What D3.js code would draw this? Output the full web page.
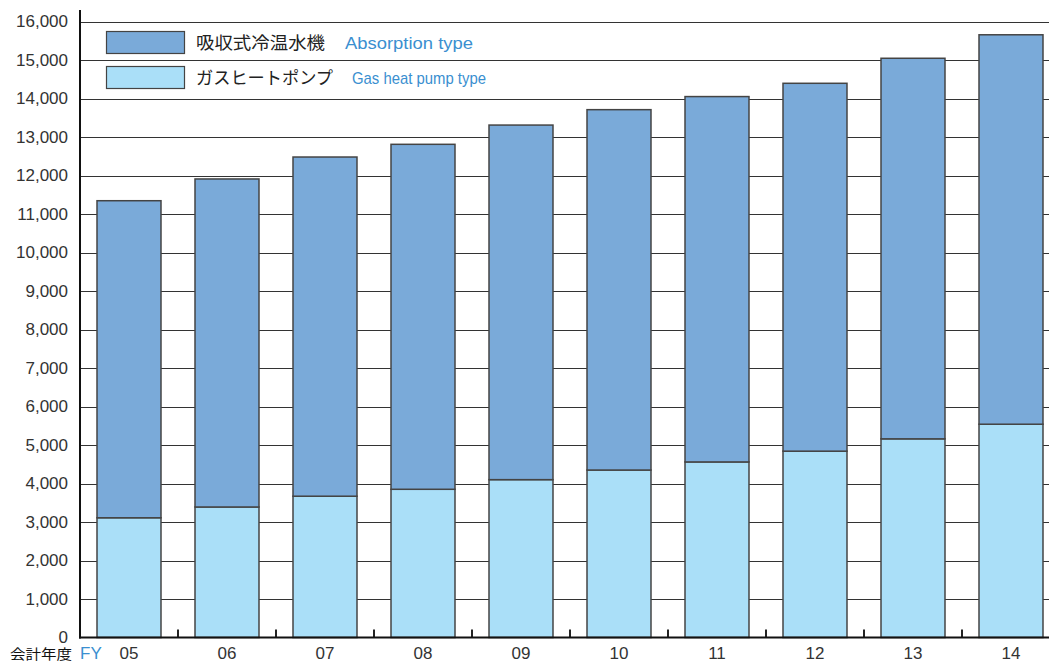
<!DOCTYPE html>
<html>
<head>
<meta charset="utf-8">
<script src="https://cdn.jsdelivr.net/npm/d3@7"></script>
<style>
  body { margin: 0; background: #fff; }
  svg { display: block; }
</style>
</head>
<body>
<svg width="1049" height="663"></svg>
<script>
// fiscal years
const years = ["05", "06", "07", "08", "09", "10", "11", "12", "13", "14"];
// gas heat pump (bottom segment)
const gasHeatPump = [3110, 3390, 3670, 3850, 4100, 4350, 4560, 4840, 5160, 5540];
// absorption chiller/heater (top segment)
const absorption = [8235, 8520, 8810, 8960, 9210, 9360, 9490, 9555, 9885, 10115];
const yTicks = [0, 1000, 2000, 3000, 4000, 5000, 6000, 7000, 8000, 9000, 10000,
                11000, 12000, 13000, 14000, 15000, 16000];

const colAbs = "#7aaad9";
const colGas = "#aadff8";
const blue = "#3a8fd0";

const svg = d3.select("svg");
const plotLeft = 80, plotRight = 1060, plotTop = 21.5, plotBottom = 637.5;

const x = d3.scaleBand().domain(years).range([plotLeft, plotRight])
    .paddingInner(0.347).paddingOuter(0.1735);
const y = d3.scaleLinear().domain([0, 16000]).range([plotBottom, plotTop]);

// gridlines
svg.append("g").selectAll("line")
    .data(yTicks.filter(d => d > 0))
    .join("line")
    .attr("x1", plotLeft).attr("x2", plotRight)
    .attr("y1", d => Math.round(y(d)) + 0.5).attr("y2", d => Math.round(y(d)) + 0.5)
    .attr("stroke", "#333").attr("stroke-width", 1);

// y labels
svg.append("g").selectAll("text")
    .data(yTicks)
    .join("text")
    .attr("x", 68).attr("y", d => y(d) + 5.5)
    .attr("text-anchor", "end")
    .style("font-family", "'Liberation Sans', Helvetica, Arial, sans-serif")
    .style("font-size", "17px")
    .attr("fill", "#333")
    .text(d => d3.format(",")(d));

// stacked bars
const rows = years.map((yr, i) => ({ year: yr, gas: gasHeatPump[i], abs: absorption[i] }));
const stack = d3.stack().keys(["gas", "abs"])(rows);
const colors = { gas: colGas, abs: colAbs };

svg.append("g").selectAll("g")
    .data(stack)
    .join("g")
    .attr("fill", d => colors[d.key])
    .selectAll("rect")
    .data(d => d)
    .join("rect")
    .attr("x", d => x(d.data.year))
    .attr("y", d => y(d[1]))
    .attr("width", x.bandwidth())
    .attr("height", d => y(d[0]) - y(d[1]))
    .attr("stroke", "#444")
    .attr("stroke-width", 1.5);

// small ticks between categories
svg.append("g").selectAll("line")
    .data(years.slice(1))
    .join("line")
    .attr("x1", d => x(d) - x.step() * x.paddingInner() / 2)
    .attr("x2", d => x(d) - x.step() * x.paddingInner() / 2)
    .attr("y1", plotBottom).attr("y2", plotBottom - 8)
    .attr("stroke", "#222").attr("stroke-width", 2);

// axis lines
svg.append("line").attr("x1", plotLeft).attr("x2", plotLeft).attr("y1", 10).attr("y2", plotBottom + 1)
    .attr("stroke", "#111").attr("stroke-width", 2);
svg.append("line").attr("x1", plotLeft - 1).attr("x2", plotRight).attr("y1", plotBottom).attr("y2", plotBottom)
    .attr("stroke", "#111").attr("stroke-width", 2);

// x labels
svg.append("g").selectAll("text")
    .data(years)
    .join("text")
    .attr("x", d => x(d) + x.bandwidth() / 2)
    .attr("y", 659)
    .attr("text-anchor", "middle")
    .style("font-family", "'Liberation Sans', Helvetica, Arial, sans-serif")
    .style("font-size", "17px")
    .attr("fill", "#333")
    .text(d => d);

svg.append("text")
    .attr("x", 10).attr("y", 659)
    .style("font-family", "'Noto Sans CJK JP', sans-serif")
    .style("font-size", "14px")
    .attr("textLength", 62)
    .attr("lengthAdjust", "spacingAndGlyphs")
    .attr("fill", "#111")
    .text("会計年度");
svg.append("text")
    .attr("x", 80).attr("y", 659)
    .style("font-family", "'Liberation Sans', Helvetica, Arial, sans-serif")
    .style("font-size", "17px")
    .attr("fill", blue)
    .text("FY");

// legend
const legend = [
  { jp: "吸収式冷温水機", jpLen: 129, en: "Absorption type", enLen: 128, color: colAbs, y: 31, enX: 345, narrow: false },
  { jp: "ガスヒートポンプ", jpLen: 137, en: "Gas heat pump type", enLen: 134, color: colGas, y: 66, enX: 352, narrow: true }
];
const lg = svg.append("g").selectAll("g").data(legend).join("g");
lg.append("rect")
    .attr("x", 106.5).attr("y", d => d.y + 0.5)
    .attr("width", 78).attr("height", 22)
    .attr("fill", d => d.color)
    .attr("stroke", "#444").attr("stroke-width", 1.2);
lg.append("text")
    .attr("x", 196).attr("y", d => d.y + 18)
    .style("font-family", "'Noto Sans CJK JP', sans-serif")
    .style("font-size", "17.5px")
    .attr("textLength", d => d.jpLen)
    .attr("lengthAdjust", "spacingAndGlyphs")
    .attr("fill", "#222")
    .text(d => d.jp);
lg.append("text")
    .attr("x", d => d.enX).attr("y", d => d.y + 18)
    .style("font-family", d => d.narrow ? "'Liberation Sans Narrow', 'Liberation Sans', Arial, sans-serif" : "'Liberation Sans', Helvetica, Arial, sans-serif")
    .style("font-size", "17px")
    .attr("textLength", d => d.enLen)
    .attr("lengthAdjust", "spacingAndGlyphs")
    .attr("fill", blue)
    .text(d => d.en);
</script>
</body>
</html>
